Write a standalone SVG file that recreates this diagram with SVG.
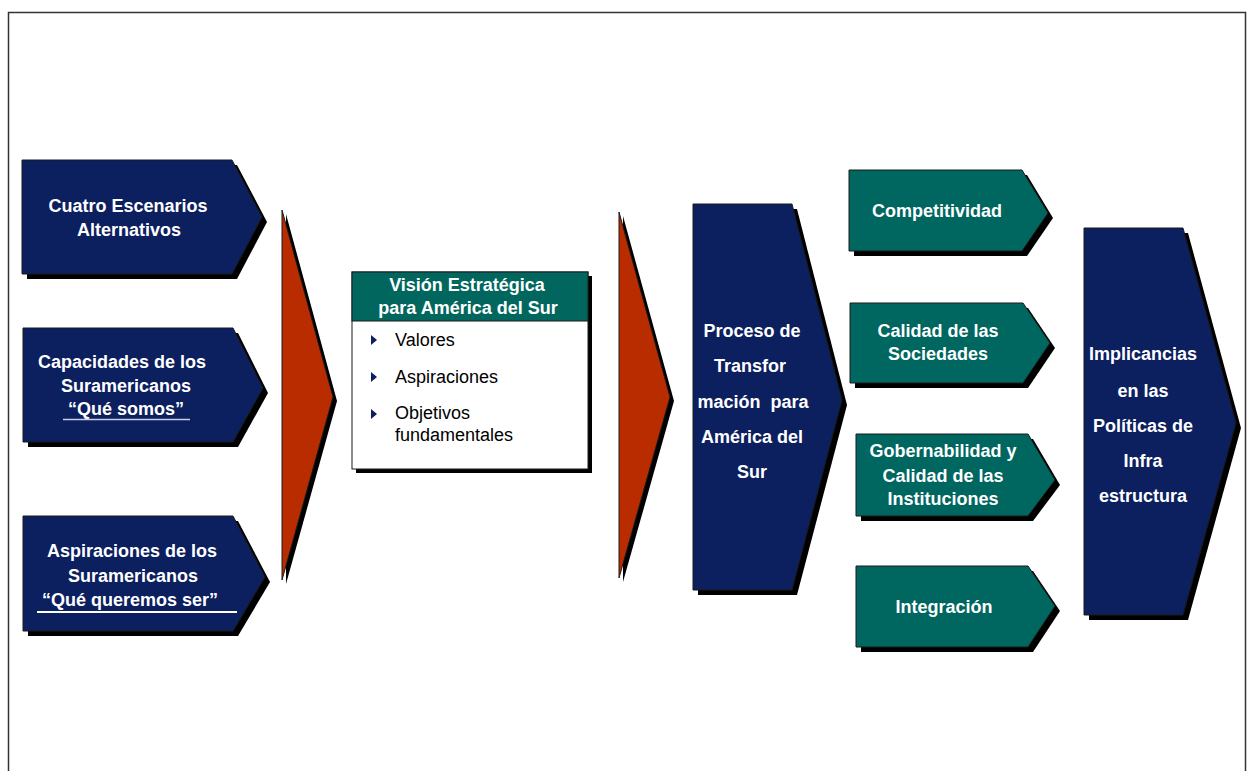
<svg xmlns="http://www.w3.org/2000/svg" width="1248" height="771" viewBox="0 0 1248 771">
<style>
.navy{fill:#0C1F5F;stroke:#1a1a1a;stroke-width:1}
.teal{fill:#006660;stroke:#1a1a1a;stroke-width:1}
.red{fill:#B82C00;stroke:#1a1a1a;stroke-width:1}
.sh{fill:#000}
.wt{font-family:"Liberation Sans",Arial,sans-serif;font-weight:bold;font-size:18px;fill:#fff;text-anchor:middle}
.bt{font-family:"Liberation Sans",Arial,sans-serif;font-size:18px;fill:#000}
.bul{fill:#0C1F5F}
</style>
<rect x="0" y="0" width="1248" height="771" fill="#fff"/>
<path d="M8.5,775 V12.5 H1245.5 V775" fill="none" stroke="#333" stroke-width="1.5"/>

<g id="node-cuatro">
<polygon class="sh" points="27,165 237,165 267,222 237,279 27,279"/>
<polygon class="navy" points="22,160 232,160 262,217 232,274 22,274"/>
<text class="wt" x="128" y="212">Cuatro Escenarios</text>
<text class="wt" x="129" y="236">Alternativos</text>
</g>

<g id="node-capacidades">
<polygon class="sh" points="28,333 238,333 268,393 238,447 28,447"/>
<polygon class="navy" points="23,328 233,328 263,388 233,442 23,442"/>
<text class="wt" x="122" y="368">Capacidades de los</text>
<text class="wt" x="126" y="392">Suramericanos</text>
<text class="wt" x="126" y="415">“Qué somos”</text>
<line x1="63" y1="419.5" x2="190" y2="419.5" stroke="#c8cfe0" stroke-width="1.5"/>
</g>

<g id="node-aspiraciones">
<polygon class="sh" points="28,521 238,521 270,582 238,636 28,636"/>
<polygon class="navy" points="23,516 233,516 265,577 233,631 23,631"/>
<text class="wt" x="132" y="557">Aspiraciones de los</text>
<text class="wt" x="133" y="582">Suramericanos</text>
<text class="wt" x="130" y="606">“Qué queremos ser”</text>
<line x1="37" y1="612" x2="237" y2="612" stroke="#fff" stroke-width="2"/>
</g>

<g id="connectors">
<polygon class="sh" points="286,214 337,401 286,584"/>
<polygon class="red" points="282,210 333,397 282,580"/>
<polygon class="sh" points="623,216 674,401 623,582"/>
<polygon class="red" points="619,212 670,397 619,578"/>
</g>

<g id="node-vision">
<rect class="sh" x="356" y="276" width="236" height="197"/>
<rect x="352" y="272" width="236" height="197" fill="#fff" stroke="#1a1a1a" stroke-width="1"/>
<rect x="352" y="272" width="236" height="49" fill="#00665E" stroke="#1a1a1a" stroke-width="1"/>
<text class="wt" x="467" y="291">Visión Estratégica</text>
<text class="wt" x="468" y="314">para América del Sur</text>
<polygon class="bul" points="371,335 377,340 371,345"/>
<text class="bt" x="395" y="346">Valores</text>
<polygon class="bul" points="371,372 377,377 371,382"/>
<text class="bt" x="395" y="383">Aspiraciones</text>
<polygon class="bul" points="371,409 377,414 371,419"/>
<text class="bt" x="395" y="419">Objetivos</text>
<text class="bt" x="395" y="441">fundamentales</text>
</g>

<g id="node-proceso">
<polygon class="sh" points="698,209 797,209 847,405 797,595 698,595"/>
<polygon class="navy" points="693,204 792,204 842,400 792,590 693,590"/>
<text class="wt" x="752" y="337">Proceso de</text>
<text class="wt" x="750" y="372">Transfor</text>
<text class="wt" x="753" y="408" xml:space="preserve">mación  para</text>
<text class="wt" x="752" y="443">América del</text>
<text class="wt" x="752" y="478">Sur</text>
</g>

<g id="node-competitividad">
<polygon class="sh" points="854,175 1027,175 1053,218 1027,256 854,256"/>
<polygon class="teal" points="849,170 1022,170 1048,213 1022,251 849,251"/>
<text class="wt" x="937" y="217">Competitividad</text>
</g>

<g id="node-calidad-sociedades">
<polygon class="sh" points="855,308 1028,308 1055,348 1028,388 855,388"/>
<polygon class="teal" points="850,303 1023,303 1050,343 1023,383 850,383"/>
<text class="wt" x="938" y="337">Calidad de las</text>
<text class="wt" x="938" y="360">Sociedades</text>
</g>

<g id="node-gobernabilidad">
<polygon class="sh" points="861,439 1033,439 1060,485 1033,521 861,521"/>
<polygon class="teal" points="856,434 1028,434 1055,480 1028,516 856,516"/>
<text class="wt" x="943" y="457">Gobernabilidad y</text>
<text class="wt" x="943" y="482">Calidad de las</text>
<text class="wt" x="943" y="505">Instituciones</text>
</g>

<g id="node-integracion">
<polygon class="sh" points="861,571 1033,571 1060,611 1033,652 861,652"/>
<polygon class="teal" points="856,566 1028,566 1055,606 1028,647 856,647"/>
<text class="wt" x="944" y="613">Integración</text>
</g>

<g id="node-implicancias">
<polygon class="sh" points="1089,233 1188,233 1241,428 1188,620 1089,620"/>
<polygon class="navy" points="1084,228 1183,228 1236,423 1183,615 1084,615"/>
<text class="wt" x="1143" y="360">Implicancias</text>
<text class="wt" x="1143" y="397">en las</text>
<text class="wt" x="1143" y="432">Políticas de</text>
<text class="wt" x="1143" y="467">Infra</text>
<text class="wt" x="1143" y="502">estructura</text>
</g>
</svg>
